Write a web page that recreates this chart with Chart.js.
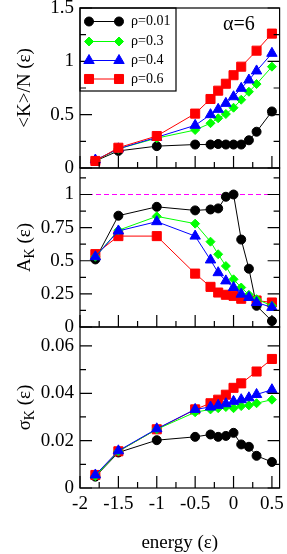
<!DOCTYPE html>
<html>
<head>
<meta charset="utf-8">
<script src="https://cdn.jsdelivr.net/npm/chart.js@4.4.1/dist/chart.umd.min.js"></script>
<style>
  html, body { margin: 0; padding: 0; background: #fff; }
  #wrap { position: relative; width: 287px; height: 554px; }
  #wrap canvas { position: absolute; left: 0; top: 0; }
</style>
</head>
<body>
<div id="wrap">
  <canvas id="chart-k" width="287" height="554"></canvas>
  <canvas id="chart-a" width="287" height="554"></canvas>
  <canvas id="chart-s" width="287" height="554"></canvas>
</div>
<script>
// energy grid (rho=0.6 has no point at 0.2)
const energy = [-1.8, -1.5, -1, -0.5, -0.3, -0.2, -0.1, 0, 0.1, 0.2, 0.3, 0.5];
const energyRed = [-1.8, -1.5, -1, -0.5, -0.3, -0.2, -0.1, 0, 0.1, 0.3, 0.5];

// <K>/N
const kBlack = [0.066, 0.16, 0.205, 0.22, 0.22, 0.225, 0.22, 0.22, 0.22, 0.26, 0.34, 0.53];
const kGreen = [0.07, 0.18, 0.28, 0.356, 0.42, 0.466, 0.506, 0.565, 0.64, 0.715, 0.787, 0.95];
const kBlue = [0.075, 0.18, 0.288, 0.40, 0.50, 0.55, 0.606, 0.668, 0.747, 0.825, 0.91, 1.075];
const kRed = [0.066, 0.19, 0.30, 0.51, 0.647, 0.725, 0.79, 0.87, 0.95, 1.1, 1.26];

// A_K
const aBlack = [0.51, 0.84, 0.907, 0.88, 0.887, 0.895, 0.983, 1.0, 0.66, 0.44, 0.16, 0.045];
const aGreen = [0.53, 0.73, 0.835, 0.78, 0.644, 0.549, 0.46, 0.36, 0.298, 0.243, 0.21, 0.16];
const aBlue = [0.53, 0.725, 0.795, 0.686, 0.506, 0.41, 0.348, 0.298, 0.248, 0.223, 0.185, 0.148];
const aRed = [0.55, 0.686, 0.686, 0.403, 0.303, 0.26, 0.243, 0.235, 0.213, 0.2, 0.185];
const aLimit = [1, 1];
const aLimitX = [-2, 0.6];

// sigma_K
const sBlack = [0.0048, 0.015, 0.0202, 0.0216, 0.0226, 0.0216, 0.022, 0.0233, 0.0184, 0.0174, 0.0136, 0.011];
const sGreen = [0.005, 0.0155, 0.0248, 0.032, 0.0332, 0.0337, 0.0342, 0.0337, 0.0346, 0.0349, 0.0358, 0.0373];
const sBlue = [0.0055, 0.0157, 0.025, 0.0332, 0.0342, 0.0349, 0.0356, 0.0366, 0.0373, 0.0381, 0.0395, 0.0415];
const sRed = [0.0055, 0.0155, 0.0248, 0.0332, 0.0358, 0.0373, 0.0394, 0.0423, 0.0442, 0.0492, 0.0545];

const rhoLabels = ['ρ=0.01', 'ρ=0.3', 'ρ=0.4', 'ρ=0.6'];

// axis ticks
const xMajor = [-2, -1.5, -1, -0.5, 0, 0.5];
const xText = ['-2', '-1.5', '-1', '-0.5', '0', '0.5'];
const xMinor = [-1.75, -1.25, -0.75, -0.25, 0.25];
const kMajor = [0, 0.5, 1, 1.5];
const kText = ['0', '0.5', '1', '1.5'];
const kMinor = [0.25, 0.75, 1.25];
const aMajor = [0, 0.25, 0.5, 0.75, 1];
const aText = ['0', '0.25', '0.5', '0.75', '1'];
const aMinor = [0.125, 0.375, 0.625, 0.875, 1.125];
const sMajor = [0, 0.02, 0.04, 0.06];
const sText = ['0', '0.02', '0.04', '0.06'];
const sMinor = [0.01, 0.03, 0.05];

const SERIF = "'Liberation Serif', 'DejaVu Serif', serif";
const STYLES = {
  black: { color: '#000000', point: 'circle', r: 4.5 },
  green: { color: '#00ff00', point: 'rectRot', r: 4.5 },
  blue: { color: '#0000ff', point: 'triangle', r: 6 },
  red: { color: '#ff0000', point: 'rect', r: 6.4 }
};

function series(xs, ys, st) {
  return {
    data: xs.map((x, i) => ({ x, y: ys[i] })),
    borderColor: st.color,
    backgroundColor: st.color,
    borderWidth: 1,
    pointStyle: st.point,
    pointRadius: st.r,
    pointHoverRadius: st.r,
    pointBorderWidth: 1,
    tension: 0,
    fill: false
  };
}

// draws a rotated title made of pieces, some as subscript
function drawTitle(ctx, pieces, x, y) {
  ctx.save();
  ctx.translate(x, y);
  ctx.rotate(-Math.PI / 2);
  ctx.fillStyle = '#000';
  ctx.textBaseline = 'middle';
  ctx.textAlign = 'left';
  let total = 0;
  pieces.forEach(p => {
    ctx.font = (p.sub ? 14 : 19) + 'px ' + SERIF;
    p.w = ctx.measureText(p.text).width;
    total += p.w;
  });
  let pos = -total / 2;
  pieces.forEach(p => {
    ctx.font = (p.sub ? 14 : 19) + 'px ' + SERIF;
    ctx.fillText(p.text, pos, p.sub ? 5 : 0);
    pos += p.w;
  });
  ctx.restore();
}

// frame, inward ticks and y title of each panel
const panelPlugin = {
  id: 'panel',
  afterDatasetsDraw(chart, args, opts) {
    const { ctx, chartArea: a } = chart;
    const xs = chart.scales.x, ys = chart.scales.y;
    ctx.save();
    ctx.strokeStyle = '#000';
    ctx.lineWidth = 1.2;
    ctx.strokeRect(a.left, a.top, a.right - a.left, a.bottom - a.top);
    ctx.beginPath();
    const xt = (v, len) => {
      const px = xs.getPixelForValue(v);
      ctx.moveTo(px, a.bottom);
      ctx.lineTo(px, a.bottom - len);
    };
    const yt = (v, len) => {
      const py = ys.getPixelForValue(v);
      ctx.moveTo(a.left, py);
      ctx.lineTo(a.left + len, py);
      ctx.moveTo(a.right, py);
      ctx.lineTo(a.right - len, py);
    };
    xMajor.forEach(v => xt(v, 12));
    xMinor.forEach(v => xt(v, 6));
    opts.major.forEach(v => yt(v, 12));
    opts.minor.forEach(v => yt(v, 6));
    ctx.stroke();
    ctx.restore();
    drawTitle(ctx, opts.title, 25, (a.top + a.bottom) / 2);

    if (opts.legend) {
      ctx.save();
      ctx.strokeStyle = '#000';
      ctx.lineWidth = 1.2;
      ctx.strokeRect(a.left, a.top, 96, 83);
      const order = [STYLES.black, STYLES.green, STYLES.blue, STYLES.red];
      const rows = [21.5, 41.5, 60.5, 79];
      order.forEach((st, i) => {
        const y = rows[i];
        ctx.strokeStyle = st.color;
        ctx.fillStyle = st.color;
        ctx.lineWidth = 1;
        ctx.beginPath();
        ctx.moveTo(89, y);
        ctx.lineTo(119, y);
        ctx.stroke();
        const pt = { pointStyle: st.point, radius: st.r, rotation: 0, borderWidth: 1 };
        Chart.helpers.drawPoint(ctx, pt, 89, y);
        Chart.helpers.drawPoint(ctx, pt, 119, y);
        ctx.fillStyle = '#000';
        ctx.font = '14px ' + SERIF;
        ctx.textBaseline = 'middle';
        ctx.fillText(rhoLabels[i], 131, y);
      });
      ctx.font = '20px ' + SERIF;
      ctx.textBaseline = 'middle';
      ctx.fillText('α=6', 223, 25);
      ctx.restore();
    }
  }
};

function yScale(min, max, major, text) {
  return {
    min, max,
    afterBuildTicks: s => { s.ticks = major.map(v => ({ value: v })); },
    afterFit: s => { s.width = 80; s.paddingTop = 0; s.paddingBottom = 0; },
    ticks: {
      callback: (v, i) => text[i],
      font: { family: SERIF, size: 19 },
      color: '#000',
      padding: 6,
      autoSkip: false,
      maxRotation: 0
    },
    grid: { display: false, drawTicks: false },
    border: { display: false }
  };
}

function xScale(showLabels) {
  if (!showLabels) {
    return { type: 'linear', min: -2, max: 0.6, display: false };
  }
  return {
    type: 'linear', min: -2, max: 0.6,
    afterBuildTicks: s => { s.ticks = xMajor.map(v => ({ value: v })); },
    afterFit: s => { s.height = 66; s.paddingLeft = 0; s.paddingRight = 0; },
    ticks: {
      callback: (v, i) => xText[i],
      font: { family: SERIF, size: 19 },
      color: '#000',
      padding: 5,
      autoSkip: false,
      maxRotation: 0
    },
    grid: { display: false, drawTicks: false },
    border: { display: false },
    title: {
      display: true,
      text: 'energy (ε)',
      font: { family: SERIF, size: 19 },
      color: '#000',
      padding: 0
    }
  };
}

function makeChart(id, datasets, pad, yOpts, panelOpts, showX) {
  return new Chart(document.getElementById(id), {
    type: 'line',
    data: { datasets },
    options: {
      responsive: false,
      animation: false,
      devicePixelRatio: 1,
      events: [],
      layout: { padding: pad },
      plugins: { legend: { display: false }, tooltip: { enabled: false }, panel: panelOpts },
      scales: { x: xScale(showX), y: yOpts }
    },
    plugins: [panelPlugin]
  });
}

makeChart('chart-k', [
  series(energyRed, kRed, STYLES.red),
  series(energy, kBlue, STYLES.blue),
  series(energy, kGreen, STYLES.green),
  series(energy, kBlack, STYLES.black)
], { top: 8, right: 6, bottom: 386, left: 0 },
  yScale(0, 1.5, kMajor, kText),
  { major: kMajor, minor: kMinor, legend: true,
    title: [{ text: '<K>/N (ε)' }] }, false);

const limit = {
  data: aLimitX.map((x, i) => ({ x, y: aLimit[i] })),
  borderColor: '#ff00ff', borderWidth: 1, borderDash: [5, 3],
  pointRadius: 0, fill: false
};

makeChart('chart-a', [
  series(energy, aBlue, STYLES.blue),
  series(energy, aGreen, STYLES.green),
  series(energyRed, aRed, STYLES.red),
  series(energy, aBlack, STYLES.black),
  limit
], { top: 168, right: 6, bottom: 227, left: 0 },
  yScale(0, 1.2, aMajor, aText),
  { major: aMajor, minor: aMinor,
    title: [{ text: 'A' }, { text: 'K', sub: true }, { text: ' (ε)' }] }, false);

makeChart('chart-s', [
  series(energy, sBlue, STYLES.blue),
  series(energy, sGreen, STYLES.green),
  series(energyRed, sRed, STYLES.red),
  series(energy, sBlack, STYLES.black)
], { top: 327, right: 6, bottom: 0, left: 0 },
  yScale(0, 0.068, sMajor, sText),
  { major: sMajor, minor: sMinor,
    title: [{ text: 'σ' }, { text: 'K', sub: true }, { text: ' (ε)' }] }, true);
</script>
</body>
</html>
